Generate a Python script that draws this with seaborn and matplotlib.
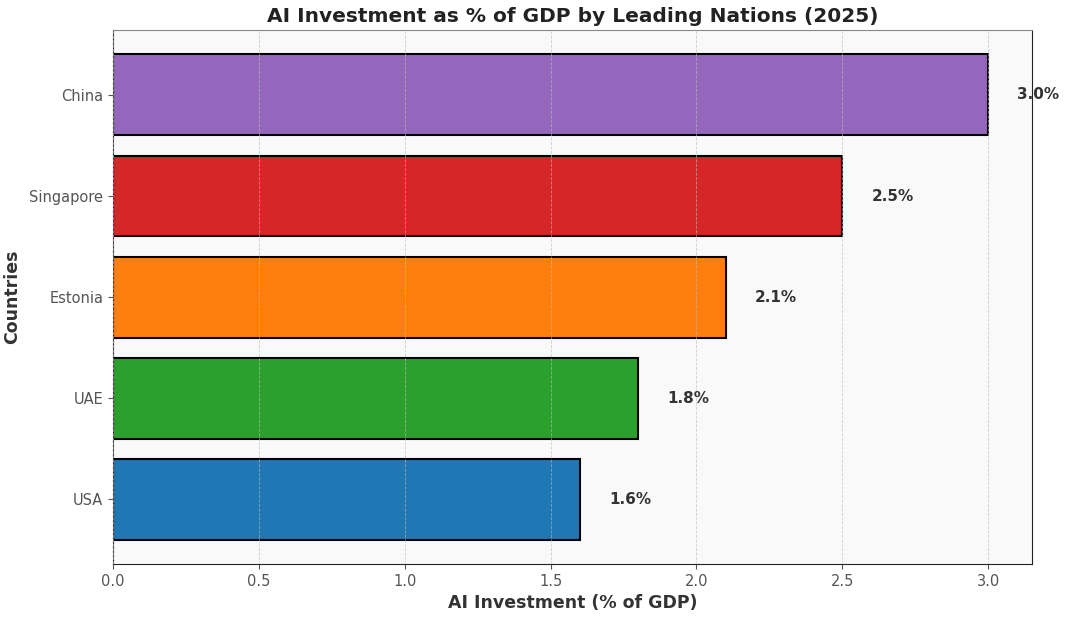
import matplotlib
matplotlib.use("Agg")
import matplotlib.pyplot as plt
import seaborn as sns
import pandas as pd

countries = ["China", "Singapore", "Estonia", "UAE", "USA"]
investment = [3.0, 2.5, 2.1, 1.8, 1.6]
bar_colors = ["#9467bd", "#d62728", "#ff7f0e", "#2ca02c", "#1f77b4"]

df = pd.DataFrame({"Country": countries, "Investment": investment})

fig, ax = plt.subplots(figsize=(10.66, 6.17), dpi=100)
fig.subplots_adjust(left=0.106, right=0.968, top=0.951, bottom=0.086)
ax.set_facecolor("#f9f9f9")

sns.barplot(data=df, x="Investment", y="Country", hue="Country", order=countries,
            palette=bar_colors, orient="h", width=0.8, edgecolor="black",
            linewidth=1.5, saturation=1, legend=False, ax=ax)

# value labels
for i, v in enumerate(investment):
    ax.text(v + 0.1, i, f"{v:.1f}%", va="center", ha="left",
            fontsize=11, fontweight="bold", color="#333333")

ax.set_xlim(0, max(investment) * 1.05)
ax.set_ylim(len(countries) - 1 + 0.64, -0.64)

# grid sits on top of the bars in the original
ax.set_axisbelow(False)
ax.grid(axis="x", linestyle="--", color="#bbbbbb", linewidth=0.6, alpha=0.7)

for side in ["left", "bottom", "right"]:
    ax.spines[side].set_color("#222222")
ax.spines["top"].set_color("#888888")

ax.tick_params(axis="both", labelsize=10.5, labelcolor="#555555", color="#555555")

ax.set_title("AI Investment as % of GDP by Leading Nations (2025)",
             fontsize=14.5, fontweight="bold", color="#222222", pad=6)
ax.set_xlabel("AI Investment (% of GDP)", fontsize=12.5, fontweight="bold", color="#333333")
ax.set_ylabel("Countries", fontsize=12.5, fontweight="bold", color="#333333", labelpad=6)

fig.savefig("out.png", dpi=100)
